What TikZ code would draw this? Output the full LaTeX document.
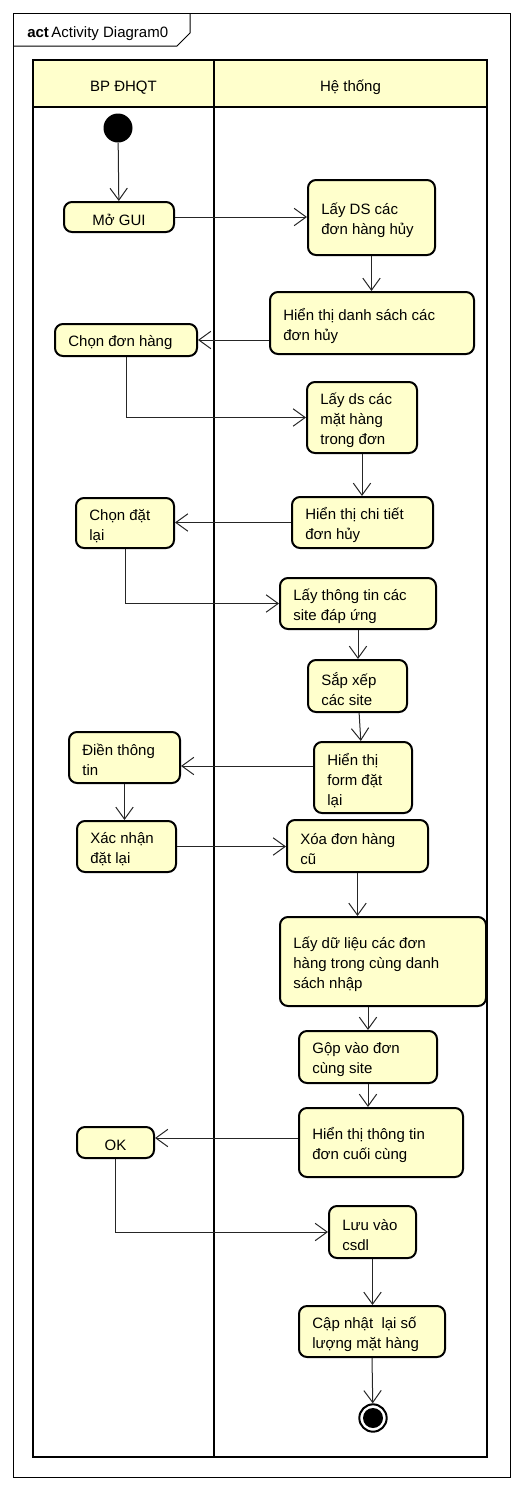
\documentclass[tikz,border=0pt]{standalone}
\usepackage{fontspec}
\setmainfont{Liberation Sans}
\usetikzlibrary{arrows.meta,calc}
\definecolor{actfill}{HTML}{FFFFCC}
\tikzset{
  act/.style={draw=black, line width=1.5pt, fill=actfill, rounded corners=6pt,
    inner xsep=10pt, inner ysep=0pt, font=\fontsize{11.25pt}{15pt}\selectfont},
  flow/.style={draw=black!85, line width=0.75pt, -{Straight Barb[length=9pt,width=13pt]}},
  lane/.style={line width=1.5pt},
}
\newcommand\actbox[7]{%
  \pgfmathsetmacro\bx{(#2+#4)/2}%
  \pgfmathsetmacro\by{(#3+#5)/2}%
  \pgfmathsetmacro\bw{(#4-#2)*0.75}%
  \pgfmathsetmacro\bh{(#5-#3)*0.75}%
  \pgfmathsetmacro\tw{\bw-20}%
  \node[act,minimum width=\bw pt,minimum height=\bh pt] (#1) at (\bx,\by)
    {\raisebox{-2pt}[\height][\depth]{\parbox{\tw pt}{#6#7}}};}
\begin{document}
\begin{tikzpicture}[x=0.75pt,y=-0.75pt,font=\fontsize{11.25pt}{15pt}\selectfont]
\useasboundingbox (0,0) rectangle (524,1490);
% frame
\draw[line width=0.75pt] (13,13) rectangle (510,1477);
\draw[line width=0.75pt] (13,46) -- (177,46) -- (190,33) -- (190,13);
\node[anchor=base west, inner sep=0pt] (title) at (27,37) {\textbf{act}\,Activity Diagram0};
% swimlanes
\fill[actfill] (33,60) rectangle (487,107);
\draw[lane] (33,60) rectangle (487,1457);
\draw[lane] (33,107) -- (487,107);
\draw[lane] (214,60) -- (214,1457);
\node[anchor=base] (lane1) at (123.5,91) {BP ĐHQT};
\node[anchor=base] (lane2) at (350.5,91) {Hệ thống};
% start / end
\node[circle, fill=black, minimum size=21.75pt, inner sep=0pt] (start) at (118,128) {};
\node[circle, draw=black, line width=1.5pt, fill=white, minimum size=20.5pt, inner sep=0pt] (end) at (373,1418) {};
\node[circle, fill=black, minimum size=15pt, inner sep=0pt] (endin) at (373,1418) {};
% actions
\actbox{mo}{64}{202}{174}{232}{\centering}{Mở GUI}
\actbox{lds}{308}{180}{435}{255}{\raggedright}{Lấy DS các\\đơn hàng hủy}
\actbox{hds}{270}{292}{474}{354}{\raggedright}{Hiển thị danh sách các\\đơn hủy}
\actbox{cdh}{55}{324}{197}{356}{\raggedright}{Chọn đơn hàng}
\actbox{lmh}{307}{382}{417}{453}{\raggedright}{Lấy ds các\\mặt hàng\\trong đơn}
\actbox{hct}{292}{497}{433}{548}{\raggedright}{Hiển thị chi tiết\\đơn hủy}
\actbox{cdl}{76}{498}{174}{548}{\raggedright}{Chọn đặt\\lại}
\actbox{ltt}{280}{578}{436}{629}{\raggedright}{Lấy thông tin các\\site đáp ứng}
\actbox{sx}{308}{660}{407}{712}{\raggedright}{Sắp xếp\\các site}
\actbox{hf}{314}{742}{412}{813}{\raggedright}{Hiển thị\\form đặt\\lại}
\actbox{dien}{69}{732}{180}{783}{\raggedright}{Điền thông\\tin}
\actbox{xn}{77}{821}{176}{872}{\raggedright}{Xác nhận\\đặt lại}
\actbox{xoa}{287}{820}{428}{872}{\raggedright}{Xóa đơn hàng\\cũ}
\actbox{ldl}{280}{917}{486}{1006}{\raggedright}{Lấy dữ liệu các đơn\\hàng trong cùng danh\\sách nhập}
\actbox{gop}{299}{1031}{437}{1083}{\raggedright}{Gộp vào đơn\\cùng site}
\actbox{htt}{299}{1108}{463}{1177}{\raggedright}{Hiển thị thông tin\\đơn cuối cùng}
\actbox{ok}{77}{1127}{154}{1158}{\centering}{OK}
\actbox{luu}{329}{1206}{416}{1258}{\raggedright}{Lưu vào\\csdl}
\actbox{cn}{299}{1306}{445}{1357}{\raggedright}{Cập nhật\ \ lại số\\lượng mặt hàng}
% flows
\draw[flow] (start) -- (mo);
\draw[flow] (mo.east) -- (mo.east -| lds.west);
\draw[flow] (lds.south) -- (lds.south |- hds.north);
\draw[flow] (hds.west |- cdh.east) -- (cdh.east);
\draw[flow] (cdh.south) |- (lmh.west);
\draw[flow] (lmh.south) -- (lmh.south |- hct.north);
\draw[flow] (hct.west) -- (hct.west -| cdl.east);
\draw[flow] (cdl.south) |- (ltt.west);
\draw[flow] (ltt.south) -- (ltt.south |- sx.north);
\draw[flow] (sx) -- (hf);
\coordinate (hfw) at ($(hf.west)+(0,-11.5)$);
\draw[flow] (hfw) -- (hfw -| dien.east);
\draw[flow] (dien.south) -- (dien.south |- xn.north);
\draw[flow] (xn.east) -- (xn.east -| xoa.west);
\draw[flow] (xoa.south) -- (xoa.south |- ldl.north);
\draw[flow] (gop.north |- ldl.south) -- (gop.north);
\draw[flow] (gop.south) -- (gop.south |- htt.north);
\coordinate (httw) at ($(htt.west)+(0,-4.5)$);
\draw[flow] (httw) -- (httw -| ok.east);
\draw[flow] (ok.south) |- (luu.west);
\draw[flow] (luu.south) -- (luu.south |- cn.north);
\draw[flow] (cn.south) -- (end);
\end{tikzpicture}
\end{document}
